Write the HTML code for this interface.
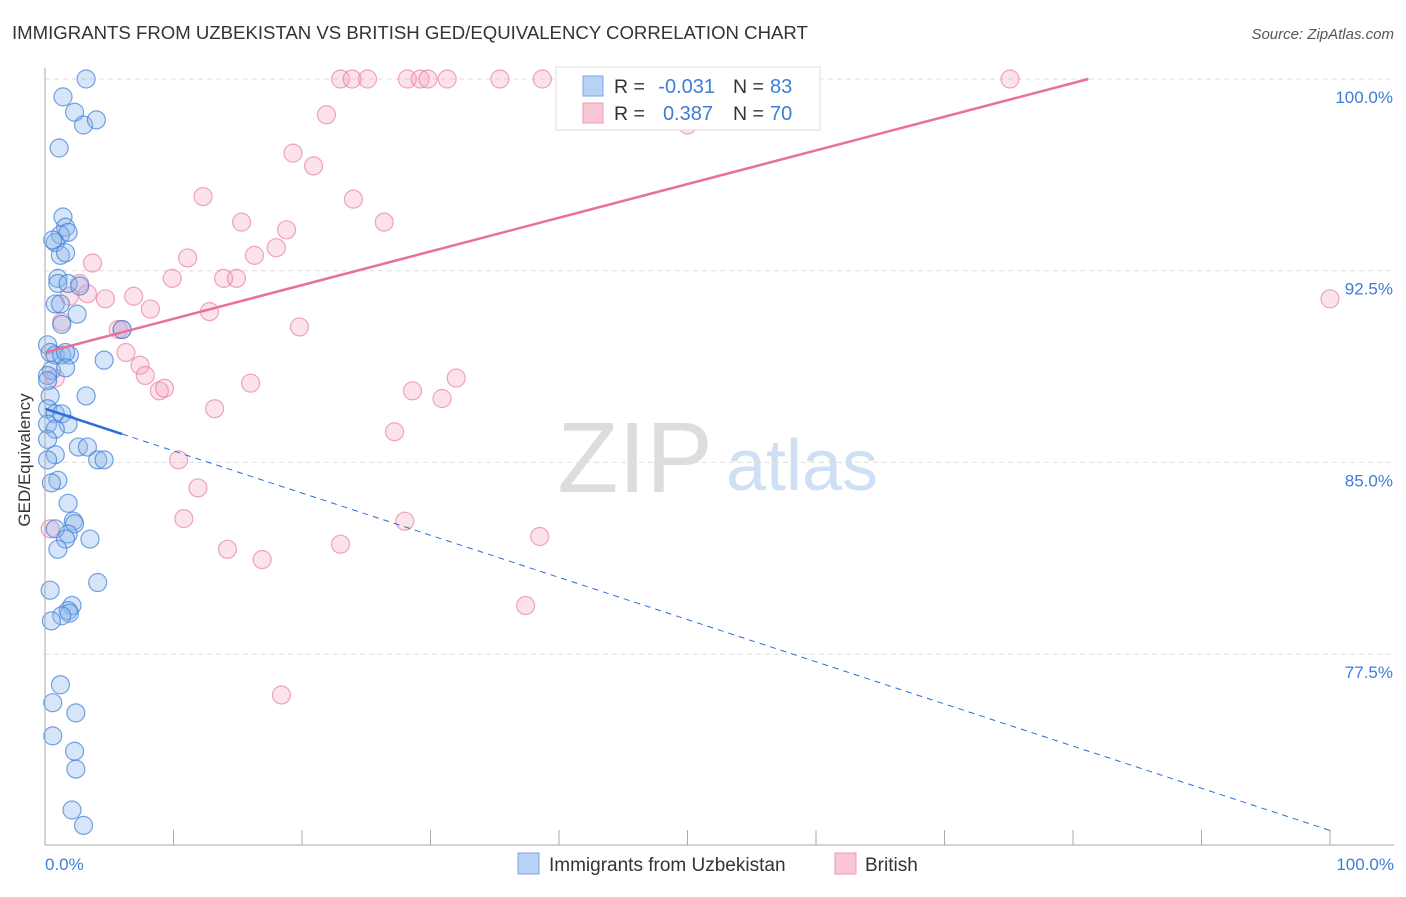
<!DOCTYPE html>
<html><head><meta charset="utf-8"><style>
body{margin:0;background:#fff;font-family:"Liberation Sans",sans-serif}
svg text{font-family:"Liberation Sans",sans-serif}
</style></head><body>
<svg id="c" width="1406" height="892">
<text x="12" y="39" font-size="18.6" fill="#333">IMMIGRANTS FROM UZBEKISTAN VS BRITISH GED/EQUIVALENCY CORRELATION CHART</text>
<text x="1394" y="39" font-size="15" fill="#555" font-style="italic" text-anchor="end">Source: ZipAtlas.com</text>
<text x="635" y="492" font-size="100" fill="#ddd" font-family="Liberation Serif" text-anchor="middle">ZIP</text>
<text x="802" y="490" font-size="72" fill="#cfe0f4" text-anchor="middle">atlas</text>
<g id="grid"></g><g id="pts"></g><g id="lines"></g>
<line x1="45" y1="68" x2="45" y2="845" stroke="#aaa"/>
<line x1="45" y1="845" x2="1394" y2="845" stroke="#aaa"/>
<text x="30" y="460" font-size="17" fill="#333" text-anchor="middle" transform="rotate(-90 30 460)">GED/Equivalency</text>
<text x="45" y="870" font-size="17" fill="#3d7dd8">0.0%</text>
<text x="1394" y="870" font-size="17" fill="#3d7dd8" text-anchor="end">100.0%</text>
<g>
<rect x="556" y="67" width="264" height="63" fill="#fff" stroke="#ddd"/>
<rect x="583" y="76" width="20" height="20" fill="#b8d2f4" stroke="#7aa6e6"/>
<rect x="583" y="103" width="20" height="20" fill="#f8c6d4" stroke="#ec9ab2"/>
<text x="614" y="93" font-size="19.5" fill="#333">R =</text>
<text x="715" y="93" font-size="20" fill="#3d7dd8" text-anchor="end">-0.031</text>
<text x="733" y="93" font-size="19.5" fill="#333">N =</text>
<text x="770" y="93" font-size="20" fill="#3d7dd8">83</text>
<text x="614" y="120" font-size="19.5" fill="#333">R =</text>
<text x="713" y="120" font-size="20" fill="#3d7dd8" text-anchor="end">0.387</text>
<text x="733" y="120" font-size="19.5" fill="#333">N =</text>
<text x="770" y="120" font-size="20" fill="#3d7dd8">70</text>
</g>
<g>
<rect x="518" y="853" width="21" height="21" fill="#b8d2f4" stroke="#7aa6e6"/>
<text x="549" y="871" font-size="19" fill="#333">Immigrants from Uzbekistan</text>
<rect x="835" y="853" width="21" height="21" fill="#f8c6d4" stroke="#ec9ab2"/>
<text x="865" y="871" font-size="19" fill="#333">British</text>
</g>
</svg>
<script>
const yTicks=[100,92.5,85,77.5];
const yTickLabels=["100.0%","92.5%","85.0%","77.5%"];
const blueX=[3.2,1.4,2.3,3.0,4.0,1.1,1.4,1.6,1.2,1.8,0.8,0.6,1.2,1.6,1.0,1.0,1.8,2.7,0.8,1.2,2.5,1.3,6.0,0.2,0.4,0.8,1.3,1.9,1.6,4.6,0.5,0.2,1.6,3.2,0.4,0.2,0.8,1.3,0.2,1.8,0.8,2.6,3.3,4.1,4.6,0.8,0.2,1.0,0.5,1.8,2.2,2.3,1.8,0.8,1.6,3.5,1.0,4.1,0.4,2.1,1.8,1.9,1.3,0.5,1.2,0.6,2.4,0.6,2.3,2.4,2.1,3.0,0.2,0.2];
const blueY=[100,99.3,98.7,98.2,98.4,97.3,94.6,94.2,93.9,94.0,93.6,93.7,93.1,93.2,92.2,92.0,92.0,91.9,91.2,91.2,90.8,90.4,90.2,89.6,89.3,89.2,89.2,89.2,89.3,89.0,88.6,88.4,88.7,87.6,87.6,87.1,86.9,86.9,86.5,86.5,86.3,85.6,85.6,85.1,85.1,85.3,85.1,84.3,84.2,83.4,82.7,82.6,82.2,82.4,82.0,82.0,81.6,80.3,80.0,79.4,79.2,79.1,79.0,78.8,76.3,75.6,75.2,74.3,73.7,73.0,71.4,70.8,88.2,85.9];
const pinkX=[23.0,23.9,25.1,28.2,29.2,29.8,31.3,35.4,38.7,40.5,47.5,52.1,75.1,21.9,50.0,19.3,20.9,12.3,24.0,15.3,26.4,18.8,18.0,11.1,3.7,16.3,9.9,13.9,14.9,2.7,1.9,3.3,4.7,6.9,8.2,12.8,19.8,1.3,5.7,6.0,6.3,7.4,7.8,8.9,9.3,16.0,28.6,30.9,32.0,13.2,27.2,10.4,11.9,10.8,28.0,38.5,14.2,16.9,23.0,37.4,18.4,100,0.8,0.4];
const pinkY=[100,100,100,100,100,100,100,100,100,100,100,100,100,98.6,98.2,97.1,96.6,95.4,95.3,94.4,94.4,94.1,93.4,93.0,92.8,93.1,92.2,92.2,92.2,92.0,91.5,91.6,91.4,91.5,91.0,90.9,90.3,90.5,90.2,90.2,89.3,88.8,88.4,87.8,87.9,88.1,87.8,87.5,88.3,87.1,86.2,85.1,84.0,82.8,82.7,82.1,81.6,81.2,81.8,79.4,75.9,91.4,88.3,82.4];
const pinkTrend=[89.3,100];
const blueTrend=[87.1,70.6];
const X=v=>45+v*12.85, Y=v=>79+(100-v)*25.56;
const NS="http://www.w3.org/2000/svg";
function mk(t,a,p){const e=document.createElementNS(NS,t);for(const k in a)e.setAttribute(k,a[k]);document.getElementById(p).appendChild(e);return e;}
yTicks.forEach((t,i)=>{
 const l=mk('line',{x1:45,x2:1394,y1:Y(t),y2:Y(t),stroke:'#ddd','stroke-dasharray':'5,4'},'grid');
 
 
 const tx=mk('text',{x:1393,y:Y(t)+24,'font-size':17,fill:'#3d7dd8','text-anchor':'end'},'grid');
 tx.textContent=yTickLabels[i];
 
 
});
for(let i=0;i<=10;i++){
 const l=mk('line',{x1:X(i*10),x2:X(i*10),y1:830,y2:845,stroke:'#aaa'},'grid');
 
 
}
pinkX.forEach((x,i)=>{
 const c=mk('circle',{cx:X(x),cy:Y(pinkY[i]),r:9,fill:'rgba(244,160,186,0.3)',stroke:'rgba(232,120,155,0.65)','stroke-width':1.2},'pts');
 
 
});
blueX.forEach((x,i)=>{
 const c=mk('circle',{cx:X(x),cy:Y(blueY[i]),r:9,fill:'rgba(140,180,235,0.35)',stroke:'rgba(60,125,215,0.7)','stroke-width':1.2},'pts');
 
 
});
let l=mk('line',{x1:X(0),y1:Y(pinkTrend[0]),x2:X(81.2),y2:Y(pinkTrend[1]),stroke:'#e8709a','stroke-width':2.5},'lines');


const by=x=>blueTrend[0]+(blueTrend[1]-blueTrend[0])*x/100;
l=mk('line',{x1:X(0),y1:Y(by(0)),x2:X(6),y2:Y(by(6)),stroke:'#2a6fd6','stroke-width':2.5},'lines');


l=mk('line',{x1:X(6),y1:Y(by(6)),x2:X(100),y2:Y(by(100)),stroke:'#2a6fd6','stroke-width':1,'stroke-dasharray':'6,5'},'lines');


</script>
</body></html>
